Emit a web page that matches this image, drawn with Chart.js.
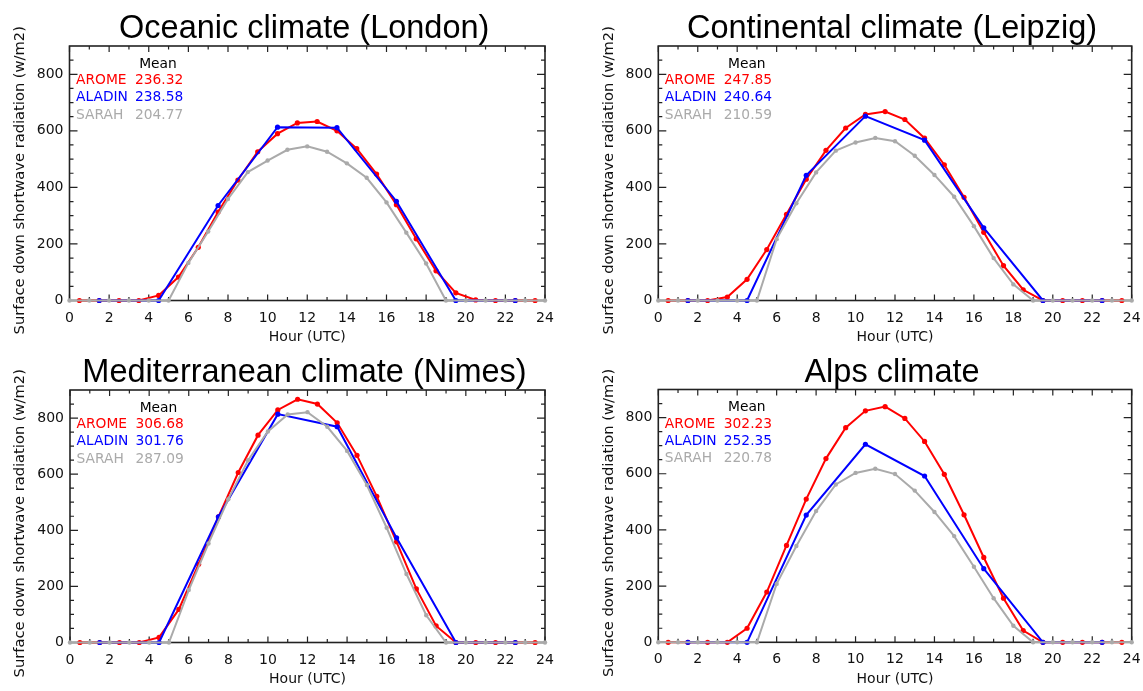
<!DOCTYPE html>
<html>
<head>
<meta charset="utf-8">
<script src="https://cdn.jsdelivr.net/npm/chart.js@4.4.1/dist/chart.umd.min.js"></script>
<style>
html,body{margin:0;padding:0;background:#fff;width:1143px;height:691px;overflow:hidden}
canvas{position:absolute;left:0;top:0}
</style>
</head>
<body>
<canvas id="c0" width="1143" height="691"></canvas>
<canvas id="c1" width="1143" height="691"></canvas>
<canvas id="c2" width="1143" height="691"></canvas>
<canvas id="c3" width="1143" height="691"></canvas>
<script>
// ---------- data ----------
const hoursArome = [0.5,1.5,2.5,3.5,4.5,5.5,6.5,7.5,8.5,9.5,10.5,11.5,12.5,13.5,14.5,15.5,16.5,17.5,18.5,19.5,20.5,21.5,22.5,23.5];
const hoursAladin = [1.5,4.5,7.5,10.5,13.5,16.5,19.5,22.5];
const hoursSarah = [0,1,2,3,4,5,6,7,8,9,10,11,12,13,14,15,16,17,18,19,20,21,22,23,24];
const xTickLabels = [0,2,4,6,8,10,12,14,16,18,20,22,24];
const yTickLabels = [0,200,400,600,800];
const seriesNames = ['AROME','ALADIN','SARAH'];
const panelTitles = ['Oceanic climate (London)','Continental climate (Leipzig)','Mediterranean climate (Nimes)','Alps climate'];

const londonArome = [0,0,0,0,18,83,188,313,426,526,590,628,633,600,537,447,339,218,105,27,2,0,0,0];
const londonAladin = [0,0,336,613,611,351,0,0];
const londonSarah = [0,0,0,0,0,0,133,244,359,454,495,533,545,526,485,434,347,240,131,0,0,0,0,0,0];
const londonMeans = ['236.32','238.58','204.77'];

const leipzigArome = [0,0,0,12,75,180,305,429,531,610,658,668,640,574,480,365,241,123,38,0,0,0,0,0];
const leipzigAladin = [0,0,443,652,567,257,0,0];
const leipzigSarah = [0,0,0,0,0,0,217,344,453,530,559,575,563,512,444,367,263,150,57,0,0,0,0,0,0];
const leipzigMeans = ['247.85','240.64','210.59'];

const nimesArome = [0,0,0,0,18,118,279,448,606,739,829,867,850,783,667,521,359,191,59,0,0,0,0,0];
const nimesAladin = [0,0,448,814,769,373,0,0];
const nimesSarah = [0,0,0,0,0,0,187,353,511,650,752,813,821,769,683,561,409,244,97,0,0,0,0,0,0];
const nimesMeans = ['306.68','301.76','287.09'];

const alpsArome = [0,0,0,0,50,179,345,510,654,764,824,839,797,715,598,454,302,157,42,0,0,0,0,0];
const alpsAladin = [0,0,453,705,592,262,0,0];
const alpsSarah = [0,0,0,0,0,0,208,343,467,562,603,618,599,540,464,378,269,157,59,0,0,0,0,0,0];
const alpsMeans = ['302.23','252.35','220.78'];

// ---------- layout / style ----------
const COLORS = ['#ff0000','#0000ff','#aaaaaa'];
const boxes = [
  {l:69.5, t:46, r:545, b:300.5},
  {l:658.3, t:46, r:1131.7, b:300.5},
  {l:70, t:390, r:545, b:642.5},
  {l:658.3, t:389.5, r:1131.7, b:642.3}
];
const YAXIS_W = 69.5, XAXIS_H = 45, W = 1143, H = 691;

const pts = (xs, ys) => xs.map((x,i)=>({x:x, y:ys[i]}));

const deco = {
  id:'deco',
  beforeDatasetsDraw(chart){
    const {ctx, chartArea:a, scales:{x,y}} = chart;
    ctx.save();
    ctx.strokeStyle = '#222';
    ctx.lineWidth = 1.2;
    ctx.beginPath();
    for (let h = x.min; h <= x.max; h += 1) {
      const px = x.getPixelForValue(h);
      const L = (h % 2 === 0) ? 6 : 3.5;
      ctx.moveTo(px, a.bottom); ctx.lineTo(px, a.bottom - L);
      ctx.moveTo(px, a.top); ctx.lineTo(px, a.top + L);
    }
    for (let v = y.min + 50; v < y.max; v += 50) {
      const py = y.getPixelForValue(v);
      const L = (v % 200 === 0) ? 8 : 4;
      ctx.moveTo(a.left, py); ctx.lineTo(a.left + L, py);
      ctx.moveTo(a.right, py); ctx.lineTo(a.right - L, py);
    }
    ctx.stroke();
    ctx.lineWidth = 1.6;
    ctx.strokeRect(a.left, a.top, a.right - a.left, a.bottom - a.top);
    ctx.restore();
  },
  afterDraw(chart, args, opts){
    const {ctx, chartArea:a} = chart;
    const cx = (a.left + a.right) / 2;
    ctx.save();
    // title
    ctx.fillStyle = '#000';
    ctx.font = '32.5px "Liberation Sans", Arial, sans-serif';
    ctx.textAlign = 'center';
    ctx.textBaseline = 'alphabetic';
    ctx.fillText(opts.title, cx - 3, a.top - 8);
    // x title
    ctx.fillStyle = '#111';
    ctx.font = '14px "DejaVu Sans", sans-serif';
    ctx.textBaseline = 'middle';
    ctx.fillText('Hour (UTC)', cx, a.bottom + 37);
    // y title
    ctx.save();
    ctx.translate(a.left - 49.5, (a.top + a.bottom) / 2 + 7);
    ctx.rotate(-Math.PI / 2);
    ctx.font = '14.7px "DejaVu Sans", sans-serif';
    ctx.fillText('Surface down shortwave radiation (w/m2)', 0, 0);
    ctx.restore();
    // mean legend
    ctx.font = '13.8px "DejaVu Sans", sans-serif';
    ctx.fillStyle = '#000';
    ctx.textAlign = 'center';
    ctx.fillText('Mean', a.left + 88.5, a.top + 18);
    ctx.textAlign = 'left';
    opts.means.forEach((m, i) => {
      ctx.fillStyle = COLORS[i];
      const yy = a.top + 34.5 + i * 17.3;
      ctx.fillText(seriesNames[i], a.left + 6.5, yy);
      ctx.fillText(m, a.left + 65.5, yy);
    });
    ctx.restore();
  }
};

function makeChart(id, idx, arome, aladin, sarah, means) {
  const bx = boxes[idx];
  const ds = (label, xs, ys, color, order, r) => ({
    label, data: pts(xs, ys), borderColor: color, backgroundColor: color,
    borderWidth: 2, pointRadius: r, pointBorderWidth: 0, pointHoverRadius: r,
    tension: 0, clip: false, order
  });
  new Chart(document.getElementById(id), {
    type: 'line',
    data: {
      datasets: [
        ds(seriesNames[0], hoursArome, arome, COLORS[0], 2, 2.6),
        ds(seriesNames[1], hoursAladin, aladin, COLORS[1], 1, 2.6),
        ds(seriesNames[2], hoursSarah, sarah, COLORS[2], 0, 2.2)
      ]
    },
    options: {
      responsive: false,
      animation: false,
      events: [],
      layout: { padding: { left: bx.l - YAXIS_W, right: W - bx.r, top: bx.t, bottom: H - bx.b - XAXIS_H } },
      plugins: {
        legend: { display: false },
        tooltip: { enabled: false },
        deco: { title: panelTitles[idx], means: means }
      },
      scales: {
        x: {
          type: 'linear', min: 0, max: 24,
          grid: { display: false, drawTicks: false },
          border: { display: false },
          afterBuildTicks: s => { s.ticks = xTickLabels.map(v => ({ value: v })); },
          afterFit: s => { s.height = XAXIS_H; s.paddingLeft = 0; s.paddingRight = 0; },
          ticks: { autoSkip: false, maxRotation: 0, padding: 9, color: '#111',
                   font: { family: 'DejaVu Sans', size: 14 } }
        },
        y: {
          type: 'linear', min: 0, max: 900,
          grid: { display: false, drawTicks: false },
          border: { display: false },
          afterBuildTicks: s => { s.ticks = yTickLabels.map(v => ({ value: v })); },
          afterFit: s => { s.width = YAXIS_W; s.paddingTop = 0; s.paddingBottom = 0; },
          ticks: { padding: 6, color: '#111', font: { family: 'DejaVu Sans', size: 14 } }
        }
      }
    },
    plugins: [deco]
  });
}

makeChart('c0', 0, londonArome, londonAladin, londonSarah, londonMeans);
makeChart('c1', 1, leipzigArome, leipzigAladin, leipzigSarah, leipzigMeans);
makeChart('c2', 2, nimesArome, nimesAladin, nimesSarah, nimesMeans);
makeChart('c3', 3, alpsArome, alpsAladin, alpsSarah, alpsMeans);
</script>
</body>
</html>
